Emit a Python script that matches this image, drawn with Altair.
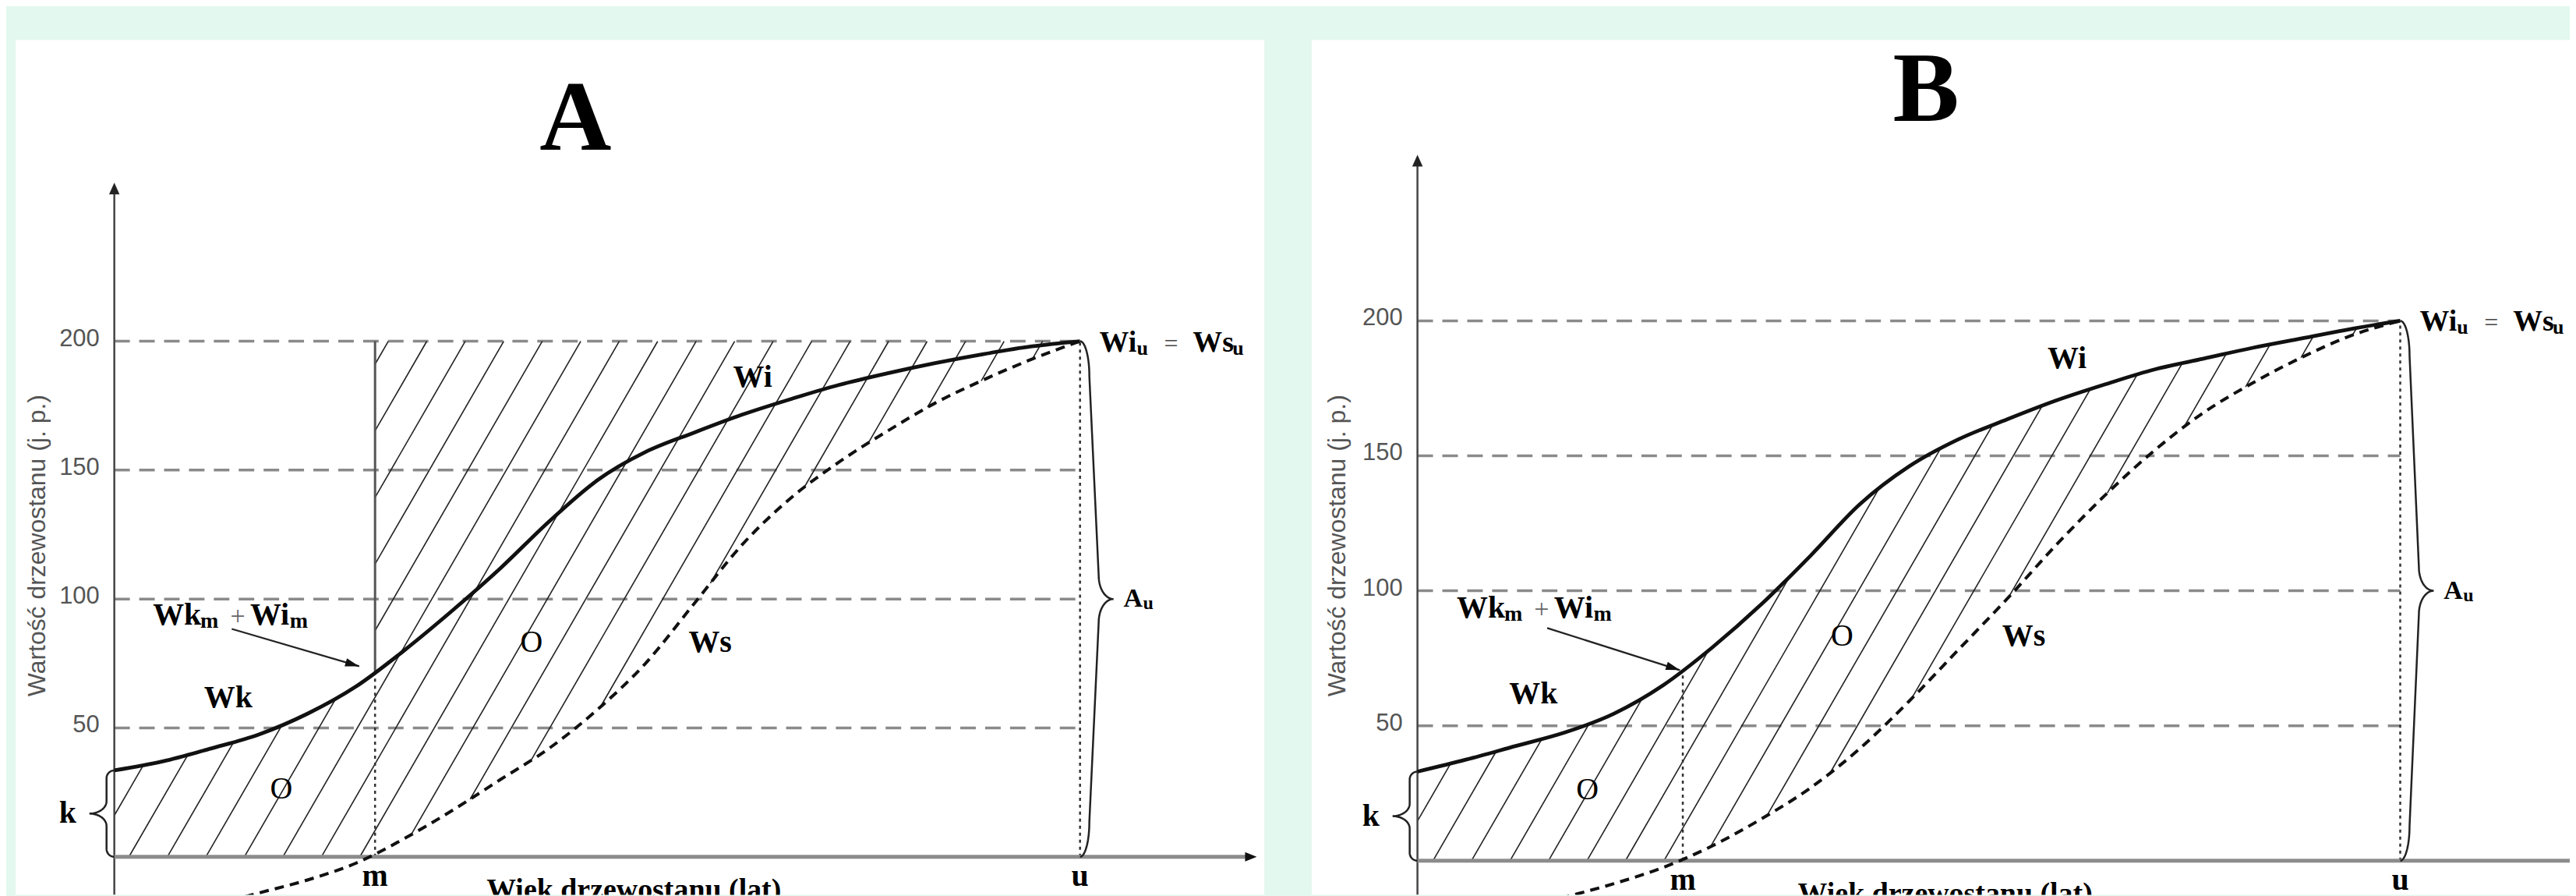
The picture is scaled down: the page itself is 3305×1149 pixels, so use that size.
import numpy as np
import pandas as pd
import altair as alt

# ---------------- values ----------------
# x = stand age (rotation age u = 100), y = stand value (j. p.)
A_WI_X = [0, 5, 10, 15, 20, 25, 30, 35, 40, 45, 50, 55, 60, 65, 70, 75, 80, 85, 90, 95, 100]
A_WI_Y = [33.5, 37, 42, 47.5, 55.5, 66, 80, 95.5, 112, 130, 146, 157, 164.5, 171.5, 177.5, 183,
          187.5, 191.5, 195, 198, 200]
A_WS_X = [13.5, 15, 20, 25, 30, 35, 40, 45, 50, 55, 60, 65, 70, 75, 80, 85, 90, 95, 100]
A_WS_Y = [-15.5, -14, -9, -2.5, 7, 18, 30, 42, 57, 75, 98, 121, 139, 153, 165, 176, 185, 193, 200]

B_WI_X = [0, 5, 10, 15, 20, 25, 30, 35, 40, 45, 50, 55, 60, 65, 70, 75, 80, 85, 90, 95, 100]
B_WI_Y = [33, 37.5, 42.5, 47.5, 54.5, 65, 79, 95, 113, 132, 146, 156, 163.5, 170.5, 176.5, 182,
          186, 190, 193.5, 197, 200]
B_WS_X = [13, 14.5, 20, 25, 30, 35, 40, 45, 50, 55, 60, 65, 70, 75, 80, 85, 90, 95, 100]
B_WS_Y = [-15.5, -14, -8.5, -2.5, 5.5, 15.5, 27, 41.5, 59, 78, 97, 117, 135.5, 152, 166, 177, 186.5,
          194.5, 200]

Y_TICKS = [50, 100, 150, 200]
M_AGE = 27.0
U_AGE = 100.0
TOP_VALUE = 200.0
Y_TITLE = "Wartość drzewostanu (j. p.)"
X_TITLE = "Wiek drzewostanu (lat)"

# ---------------- panel geometry ----------------
GEO = {
    "A": dict(width=1606, height=1099, xdom=[-10.225, 119.08], ydom=[-14.79, 316.84],
              title_x=47.75, ytitle_x=-7.97, ytitle_y=120.7, xend=118.3, label_x=53.8,
              arrow=(12.16, 88.4, 25.36, 73.9), solid_m=True, mode="A"),
    "B": dict(width=1618, height=1099, xdom=[-10.76, 117.25], ydom=[-12.68, 304.03],
              title_x=51.75, ytitle_x=-8.15, ytitle_y=116.7, xend=119.5, label_x=53.7,
              arrow=(13.2, 86.2, 26.7, 70.6), solid_m=False, mode="B"),
}

SERIF = "Liberation Serif, Times New Roman, serif"
NARROW = "Liberation Sans Narrow, Arial Narrow, Liberation Sans, sans-serif"


class Mono:
    """Same monotone cubic as d3.curveMonotoneX (used by Vega's 'monotone')."""

    def __init__(self, xs, ys):
        self.x = np.asarray(xs, float)
        self.y = np.asarray(ys, float)
        n = len(self.x)
        h = np.diff(self.x)
        s = np.diff(self.y) / h
        t = np.zeros(n)
        sg = lambda v: -1.0 if v < 0 else 1.0
        for i in range(1, n - 1):
            h0, h1, s0, s1 = h[i - 1], h[i], s[i - 1], s[i]
            p = (s0 * h1 + s1 * h0) / (h0 + h1)
            t[i] = (sg(s0) + sg(s1)) * min(abs(s0), abs(s1), 0.5 * abs(p))
        t[0] = (3 * s[0] - t[1]) / 2
        t[-1] = (3 * s[-1] - t[-2]) / 2
        self.t = t

    def __call__(self, xq):
        xq = np.asarray(xq, float)
        i = np.clip(np.searchsorted(self.x, xq) - 1, 0, len(self.x) - 2)
        x0, x1 = self.x[i], self.x[i + 1]
        h = x1 - x0
        u = (xq - x0) / h
        h00 = 2 * u**3 - 3 * u**2 + 1
        h10 = u**3 - 2 * u**2 + u
        h01 = -2 * u**3 + 3 * u**2
        h11 = u**3 - u**2
        return h00 * self.y[i] + h10 * h * self.t[i] + h01 * self.y[i + 1] + h11 * h * self.t[i + 1]


def hatch_segments(lower, upper, x0, x1, kx, ky, slope_px=1.73, spacing_px=49.5, phase=5.5):
    s = slope_px * kx / ky
    sp = spacing_px / kx
    xs = np.linspace(x0, x1, 8001)
    lo, up = lower(xs), upper(xs)
    ymax = float(up.max())
    kmin = int(np.floor((x0 - ymax / s - phase) / sp)) - 1
    kmax = int(np.ceil((x1 - phase) / sp)) + 1
    rows = []
    for k in range(kmin, kmax + 1):
        c = phase + k * sp
        yl = s * (xs - c)
        inside = (yl >= lo) & (yl <= up)
        if not inside.any():
            continue
        d = np.diff(inside.astype(int))
        starts = list(np.where(d == 1)[0] + 1)
        ends = list(np.where(d == -1)[0])
        if inside[0]:
            starts = [0] + starts
        if inside[-1]:
            ends = ends + [len(xs) - 1]
        for a, b in zip(starts, ends):
            if b - a < 3:
                continue
            rows.append(dict(x=xs[a], y=yl[a], x2=xs[b], y2=yl[b]))
    return pd.DataFrame(rows)


def brace_df(x_anchor, y0, y1, direction, s_end, s_mid, tip, r_end, r_tip, kx, ky, n=18):
    th = np.linspace(0, np.pi / 2, n)
    ym = (y0 + y1) / 2
    re, rt = r_end / ky, r_tip / ky
    pts = []
    for a in th:
        pts.append((s_end * np.sin(a), y0 + re * (1 - np.cos(a))))
    for a in th:
        pts.append((s_mid + (tip - s_mid) * (1 - np.cos(a)), ym - rt + rt * np.sin(a)))
    for a in th[::-1]:
        pts.append((s_mid + (tip - s_mid) * (1 - np.cos(a)), ym + rt - rt * np.sin(a)))
    for a in th[::-1]:
        pts.append((s_end * np.sin(a), y1 - re * (1 - np.cos(a))))
    return pd.DataFrame({
        "x": [x_anchor + direction * p[0] / kx for p in pts],
        "y": [p[1] for p in pts],
        "o": list(range(len(pts))),
    })


def make_panel(key, wi_x, wi_y, ws_x, ws_y, g):
    kx = g["width"] / (g["xdom"][1] - g["xdom"][0])
    ky = g["height"] / (g["ydom"][1] - g["ydom"][0])
    sx = alt.Scale(domain=g["xdom"], nice=False, zero=False)
    sy = alt.Scale(domain=g["ydom"], nice=False, zero=False)
    X = alt.X("x:Q", scale=sx, axis=None)
    Y = alt.Y("y:Q", scale=sy, axis=None)
    X2 = alt.X2("x2:Q")
    Y2 = alt.Y2("y2:Q")

    wi = Mono(wi_x, wi_y)
    ws = Mono(ws_x, ws_y)
    wk_m = float(wi(np.array([M_AGE]))[0])
    k_val = float(wi_y[0])

    def ws_pos(x):
        return np.maximum(0.0, np.where(x < ws_x[0], 0.0, ws(x)))

    if g["mode"] == "A":
        lower = lambda x: np.where(x < M_AGE, 0.0, ws_pos(x))
        upper = lambda x: np.where(x < M_AGE, wi(x), TOP_VALUE)
    else:
        lower = ws_pos
        upper = wi

    layers = []
    # dashed grid
    grid = pd.DataFrame({"y": Y_TICKS, "x": 0.0, "x2": U_AGE})
    layers.append(alt.Chart(grid).mark_rule(color="#8a8a8a", strokeWidth=3.5, strokeDash=[20, 12], clip=True)
                  .encode(x=X, x2=X2, y=Y))
    # hatching
    hat = hatch_segments(lower, upper, 0.0, U_AGE, kx, ky)
    layers.append(alt.Chart(hat).mark_rule(color="#222222", strokeWidth=1.6, clip=True)
                  .encode(x=X, y=Y, x2=X2, y2=Y2))
    # m line
    if g["solid_m"]:
        layers.append(alt.Chart(pd.DataFrame({"x": [M_AGE], "y": [wk_m], "y2": [TOP_VALUE]}))
                      .mark_rule(color="#555555", strokeWidth=3, clip=True).encode(x=X, y=Y, y2=Y2))
    layers.append(alt.Chart(pd.DataFrame({"x": [M_AGE], "y": [0.0], "y2": [wk_m]}))
                  .mark_rule(color="#333333", strokeWidth=2.5, strokeDash=[4, 5], clip=True).encode(x=X, y=Y, y2=Y2))
    # u line
    layers.append(alt.Chart(pd.DataFrame({"x": [U_AGE], "y": [0.0], "y2": [TOP_VALUE]}))
                  .mark_rule(color="#333333", strokeWidth=2.5, strokeDash=[4, 5], clip=True).encode(x=X, y=Y, y2=Y2))
    # y axis + arrow
    ytip = 261.5
    layers.append(alt.Chart(pd.DataFrame({"x": [0.0], "y": [g["ydom"][0]], "y2": [ytip - 8 / ky]}))
                  .mark_rule(color="#444444", strokeWidth=2.5, clip=True).encode(x=X, y=Y, y2=Y2))
    layers.append(alt.Chart(pd.DataFrame({"x": [0.0], "y": [ytip]}))
                  .mark_point(shape="M0,0 L-0.45,1 L0.45,1 Z", size=900, filled=True, color="#222222",
                              opacity=1, strokeWidth=0, clip=True).encode(x=X, y=Y))
    # x axis + arrow
    layers.append(alt.Chart(pd.DataFrame({"x": [0.0], "x2": [g["xend"] - 8 / kx], "y": [0.0]}))
                  .mark_rule(color="#8c8c8c", strokeWidth=5, clip=True).encode(x=X, x2=X2, y=Y))
    layers.append(alt.Chart(pd.DataFrame({"x": [g["xend"]], "y": [0.0]}))
                  .mark_point(shape="M0,0 L-1,-0.4 L-1,0.4 Z", size=900, filled=True, color="#111111",
                              opacity=1, strokeWidth=0, clip=True).encode(x=X, y=Y))
    # curves
    layers.append(alt.Chart(pd.DataFrame({"x": ws_x, "y": ws_y}))
                  .mark_line(interpolate="monotone", color="#111111", strokeWidth=4, strokeDash=[12, 8], clip=True)
                  .encode(x=X, y=Y))
    layers.append(alt.Chart(pd.DataFrame({"x": wi_x, "y": wi_y}))
                  .mark_line(interpolate="monotone", color="#111111", strokeWidth=4.8, clip=True)
                  .encode(x=X, y=Y))
    # braces
    bk = brace_df(0.0, 0.0, k_val, -1, 10, 10, 32, 10, 16, kx, ky)
    bu = brace_df(U_AGE, 0.0, TOP_VALUE, 1, 12, 24, 43, 45, 30, kx, ky)
    for b in (bk, bu):
        layers.append(alt.Chart(b).mark_line(color="#222222", strokeWidth=2.5, clip=True)
                      .encode(x=X, y=Y, order="o:Q"))
    # annotation arrow
    ax0, ay0, ax1, ay1 = g["arrow"]
    ang = float(np.degrees(np.arctan2((ay0 - ay1) * ky, (ax1 - ax0) * kx)))
    layers.append(alt.Chart(pd.DataFrame({"x": [ax0], "y": [ay0], "x2": [ax1], "y2": [ay1]}))
                  .mark_rule(color="#222222", strokeWidth=2.2, clip=True).encode(x=X, y=Y, x2=X2, y2=Y2))
    layers.append(alt.Chart(pd.DataFrame({"x": [ax1], "y": [ay1]}))
                  .mark_point(shape="M0,0 L-1,-0.3 L-1,0.3 Z", size=1296, angle=ang, filled=True,
                              color="#111111", opacity=1, strokeWidth=0, clip=True).encode(x=X, y=Y))

    # texts
    items = []

    def add(t, x, y, size=38, weight="bold", align="center", baseline="middle",
            font=SERIF, color="#000000", angle=0):
        items.append(dict(t=t, x=x, y=y, size=size, weight=weight, align=align,
                          baseline=baseline, font=font, color=color, angle=angle))

    add(key, g["title_x"], 274.2, size=128, baseline="alphabetic")
    add(Y_TITLE, g["ytitle_x"], g["ytitle_y"], size=32, weight="normal", font=NARROW,
        color="#555555", angle=270)
    for t in Y_TICKS:
        add(str(t), -19 / kx, t + 3 / ky, size=31, weight="normal", font=NARROW,
            color="#555555", align="right")
    add("k", -60 / kx, k_val / 2, size=40)
    add("m", M_AGE, -37 / ky, size=40, baseline="alphabetic")
    add("u", U_AGE, -37 / ky, size=40, baseline="alphabetic")
    add(X_TITLE, g["label_x"], -54 / ky, size=38, baseline="alphabetic")
    add("Wk", 11.8, 61.6, size=40)
    add("O", 17.3, 26.2, weight="normal", size=40)
    add("O", 43.2, 83.0, weight="normal", size=40)
    add("Wi", 66.1, 186.0, size=40)
    add("Ws", 61.7, 83.0, size=40)
    lx, ly = 4.0, 90.0
    add("Wk", lx, ly, size=40, align="left", baseline="alphabetic")
    add("m", lx + 61 / kx, ly - 4 / ky, size=28, align="left", baseline="alphabetic")
    add("+", lx + 109 / kx, ly, size=34, weight="normal", color="#666666", baseline="alphabetic")
    add("Wi", lx + 125 / kx, ly, size=40, align="left", baseline="alphabetic")
    add("m", lx + 176 / kx, ly - 4 / ky, size=28, align="left", baseline="alphabetic")
    add("Wi", U_AGE + 25 / kx, TOP_VALUE - 13 / ky, align="left", baseline="alphabetic")
    add("u", U_AGE + 73 / kx, TOP_VALUE - 17 / ky, size=26, align="left", baseline="alphabetic")
    add("=", U_AGE + 117 / kx, TOP_VALUE - 13 / ky, size=32, weight="normal", color="#444444",
        baseline="alphabetic")
    add("Ws", U_AGE + 145 / kx, TOP_VALUE - 13 / ky, align="left", baseline="alphabetic")
    add("u", U_AGE + 196 / kx, TOP_VALUE - 17 / ky, size=26, align="left", baseline="alphabetic")
    add("A", U_AGE + 56 / kx, 100 - 10 / ky, size=34, align="left", baseline="alphabetic")
    add("u", U_AGE + 81 / kx, 100 - 13 / ky, size=24, align="left", baseline="alphabetic")

    for it in items:
        mk = dict(fontSize=it["size"], fontWeight=it["weight"], align=it["align"],
                  baseline=it["baseline"], font=it["font"], color=it["color"], clip=True)
        if it["angle"]:
            mk["angle"] = it["angle"]
        layers.append(alt.Chart(pd.DataFrame({"x": [it["x"]], "y": [it["y"]], "t": [it["t"]]}))
                      .mark_text(**mk).encode(x=X, y=Y, text="t:N"))

    return alt.layer(*layers).properties(
        width=g["width"], height=g["height"],
        view=alt.ViewBackground(fill="white", strokeWidth=0),
    )


pa = make_panel("A", A_WI_X, A_WI_Y, A_WS_X, A_WS_Y, GEO["A"])
pb = make_panel("B", B_WI_X, B_WI_Y, B_WS_X, B_WS_Y, GEO["B"])

chart = (
    alt.hconcat(pa, pb, spacing=61, bounds="flush")
    .properties(padding={"left": 12, "top": 42, "right": 0, "bottom": 0})
    .configure(background="#E3F8EE")
    .configure_view(strokeWidth=0)
)

chart.save("out.html", embed_options={"renderer": "svg", "actions": False})
